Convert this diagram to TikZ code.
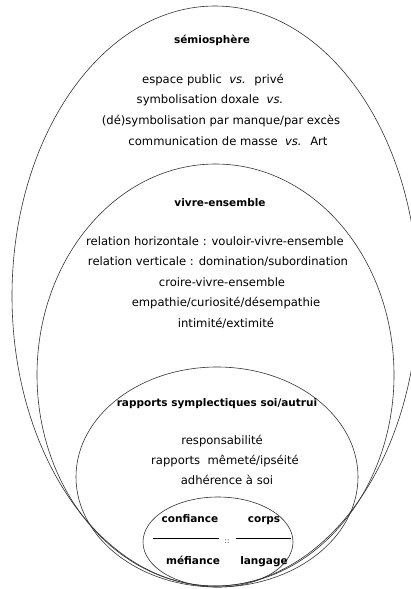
\documentclass[tikz,border=0pt]{standalone}
\usepackage{fontspec}
\setmainfont{DejaVu Sans}
\usepackage{tikz}

\begin{document}
\begin{tikzpicture}[x=1pt,y=-1pt,
    txt/.style={inner sep=0pt,text height=8pt,text depth=2pt,
      font=\fontsize{11.6}{13}\selectfont},
    head/.style={txt,font=\fontsize{10.5}{12}\selectfont\bfseries},
    ring/.style={draw=black!80,line width=0.6pt}]
  \useasboundingbox (0,0) rectangle (410,589);

  \draw[ring] (215,296) ellipse [x radius=203, y radius=290];
  \draw[ring] (215.5,375) ellipse [x radius=178.5, y radius=211];
  \draw[ring] (217,477) ellipse [x radius=141, y radius=110];
  \draw[ring] (218,542) ellipse [x radius=75, y radius=45];

  % semiosphere
  \node[head] (semio) at (212,40) {sémiosphère};
  \node[txt] (espace) at (213,80) {espace public \ \textit{vs.} \ privé};
  \node[txt] (doxale) at (210,100) {symbolisation doxale \ \textit{vs.}};
  \node[txt] (desymb) at (221,121) {(dé)symbolisation par manque/par excès};
  \node[txt] (masse) at (228,142) {communication de masse \ \textit{vs.} \ Art};

  % vivre-ensemble
  \node[head] (vivre) at (220,203) {vivre-ensemble};
  \node[txt] (horiz) at (215,242) {relation horizontale : vouloir-vivre-ensemble};
  \node[txt] (vert) at (218,262) {relation verticale : domination/subordination};
  \node[txt] (croire) at (222,283) {croire-vivre-ensemble};
  \node[txt] (empathie) at (226,303) {empathie/curiosité/désempathie};
  \node[txt] (intime) at (226,324) {intimité/extimité};

  % soi/autrui
  \node[head] (sympl) at (217,403) {rapports symplectiques soi/autrui};
  \node[txt] (resp) at (222,441) {responsabilité};
  \node[txt] (meme) at (225,461) {rapports \ mêmeté/ipséité};
  \node[txt] (adher) at (227,481) {adhérence à soi};

  % proportion
  \node[head] (conf) at (190,519) {confiance};
  \node[head] (corps) at (264,519) {corps};
  \node[head] (mef) at (193,561) {méfiance};
  \node[head] (lang) at (264,561) {langage};
  \node[txt,font=\fontsize{7}{8}\selectfont] (ratio) at (227,540) {::};
  \coordinate (la) at (153,538);
  \coordinate (lb) at (219,538);
  \coordinate (ra) at (236,538);
  \coordinate (rb) at (291,538);
  \draw[line width=0.7pt] (la) -- (lb);
  \draw[line width=0.7pt] (ra) -- (rb);
\end{tikzpicture}
\end{document}
